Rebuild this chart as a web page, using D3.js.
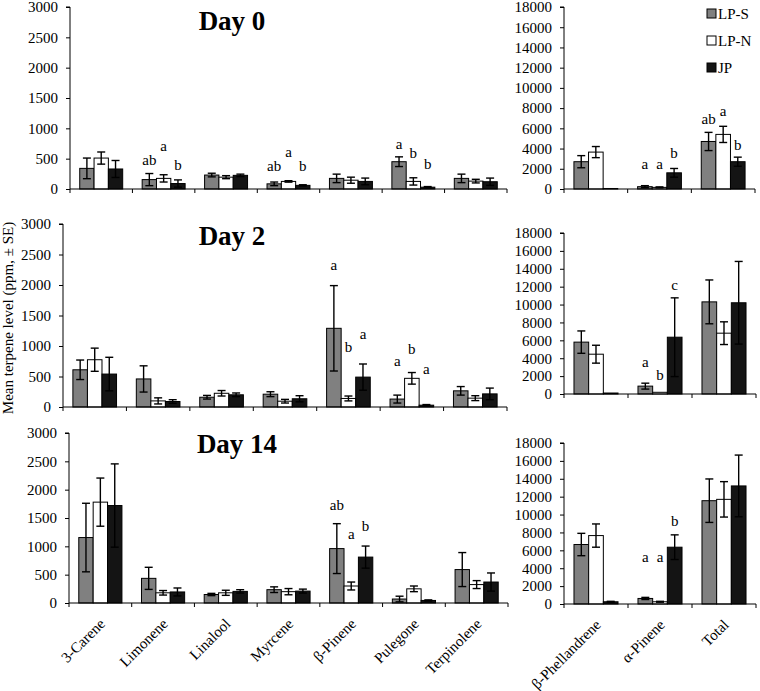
<!DOCTYPE html>
<html><head><meta charset="utf-8">
<script src="https://cdn.jsdelivr.net/npm/d3@7"></script>
<style>body{margin:0;background:#fff}svg{display:block}text{font-family:'Liberation Serif','Times New Roman',serif;fill:#000}</style>
</head><body><svg id="c" width="760" height="691"></svg>
<script>
// ---------- data ----------
const leftCategories = ["3-Carene","Limonene","Linalool","Myrcene","β-Pinene","Pulegone","Terpinolene"];
const rightCategories = ["β-Phellandrene","α-Pinene","Total"];
const seriesNames = ["LP-S","LP-N","JP"];
const leftTicks = [0,500,1000,1500,2000,2500,3000];
const rightTicks = [0,2000,4000,6000,8000,10000,12000,14000,16000,18000];

// Day 0
const day0LeftMean = [[340,155,230,85,175,450,175],[510,175,195,125,145,125,130],[330,90,225,60,125,30,120]];
const day0LeftSE   = [[170,100,30,30,70,80,70],[100,60,25,12,50,60,30],[140,60,20,10,55,10,60]];
const day0LeftLetters = [["","ab","","ab","","a",""],["","a","","a","","b",""],["","b","","b","","b",""]];
const day0LeftLetterAt = [[0,489,0,384,0,742,0],[0,720,0,610,0,605,0],[0,407,0,384,0,412,0]];
const day0RightMean = [[2700,230,4700],[3650,160,5400],[50,1600,2700]];
const day0RightSE   = [[600,100,900],[550,50,800],[0,430,450]];
const day0RightLetters = [["","a","ab"],["","a","a"],["","b","b"]];
const day0RightLetterAt = [[0,2473,6923],[0,2473,7714],[0,3630,4420]];

// Day 2
const day2LeftMean = [[610,460,160,210,1290,130,265],[775,100,225,95,140,470,145],[540,90,200,135,490,30,215]];
const day2LeftSE   = [[160,215,30,40,700,65,70],[190,50,45,30,40,95,40],[275,30,30,50,215,10,95]];
const day2LeftLetters = [["","","","","a","a",""],["","","","","b","b",""],["","","","","a","a",""]];
const day2LeftLetterAt = [[0,0,0,0,2324,753,0],[0,0,0,0,994,951,0],[0,0,0,0,1198,621,0]];
const day2RightMean = [[5800,880,10300],[4450,190,6800],[110,6350,10200]];
const day2RightSE   = [[1250,330,2450],[1000,0,1270],[0,4400,4620]];
const day2RightLetters = [["","a",""],["","b",""],["","c",""]];
const day2RightLetterAt = [[0,3613,0],[0,2200,0],[0,12190,0]];

// Day 14
const day14LeftMean = [[1155,435,150,235,960,70,590],[1780,180,180,200,300,250,325],[1720,195,205,210,810,45,370]];
const day14LeftSE   = [[605,195,20,50,440,50,300],[425,40,45,55,70,50,70],[735,70,30,35,195,10,160]];
const day14LeftLetters = [["","","","","ab","",""],["","","","","a","",""],["","","","","b","",""]];
const day14LeftLetterAt = [[0,0,0,0,1730,0,0],[0,0,0,0,1223,0,0],[0,0,0,0,1371,0,0]];
const day14RightMean = [[6650,620,11550],[7650,250,11700],[250,6350,13200]];
const day14RightSE   = [[1250,120,2430],[1300,50,1980],[50,1380,3450]];
const day14RightLetters = [["","a",""],["","a",""],["","b",""]];
const day14RightLetterAt = [[0,5290,0],[0,5290,0],[0,9280,0]];

const dayTitles = ["Day 0","Day 2","Day 14"];
const yLabel = "Mean terpene level (ppm, ± SE)";

// ---------- drawing ----------
const svg = d3.select("#c");
const fills = {"LP-S":"#808080","LP-N":"#ffffff","JP":"#141414"};

function panel(o){
  const g = svg.append("g");
  const x = d3.scaleBand().domain(o.cats).range([o.x0,o.x1]).padding(0);
  const xs = d3.scaleBand().domain(seriesNames).range([0,x.bandwidth()]).paddingInner(0).paddingOuter(0.68);
  const y = d3.scaleLinear().domain([0,o.max]).range([o.yb,o.yt]);
  const rows = [];
  seriesNames.forEach((s,si)=>o.cats.forEach((c,ci)=>{
    rows.push({s,c,v:o.mean[si][ci],e:o.se[si][ci],l:o.letters[si][ci],la:o.letterAt[si][ci]});
  }));
  // bars
  g.selectAll("rect.bar").data(rows).join("rect")
    .attr("x",d=>x(d.c)+xs(d.s)).attr("width",xs.bandwidth())
    .attr("y",d=>y(d.v)).attr("height",d=>y(0)-y(d.v))
    .attr("fill",d=>fills[d.s]).attr("stroke","#000").attr("stroke-width",1);
  // error bars
  const eb = rows.filter(d=>d.e>0);
  const cx = d=>x(d.c)+xs(d.s)+xs.bandwidth()/2;
  const eg = g.append("g").attr("stroke","#000").attr("stroke-width",1.4);
  eg.selectAll("line.v").data(eb).join("line").attr("x1",cx).attr("x2",cx)
    .attr("y1",d=>y(d.v+d.e)).attr("y2",d=>y(Math.max(0,d.v-d.e)));
  eg.selectAll("line.t").data(eb).join("line").attr("x1",d=>cx(d)-4).attr("x2",d=>cx(d)+4)
    .attr("y1",d=>y(d.v+d.e)).attr("y2",d=>y(d.v+d.e));
  eg.selectAll("line.b").data(eb).join("line").attr("x1",d=>cx(d)-4).attr("x2",d=>cx(d)+4)
    .attr("y1",d=>y(Math.max(0,d.v-d.e))).attr("y2",d=>y(Math.max(0,d.v-d.e)));
  // letters
  g.selectAll("text.let").data(rows.filter(d=>d.l)).join("text")
    .attr("x",cx).attr("y",d=>y(d.la)).attr("dy","0.35em").attr("fill","#000")
    .attr("text-anchor","middle").attr("font-size",15).text(d=>d.l);
  // y axis
  const ya = g.append("g").attr("transform",`translate(${o.x0},0)`)
    .call(d3.axisLeft(y).tickValues(o.ticks).tickSize(4).tickPadding(8).tickFormat(d3.format("d")));
  ya.selectAll("text").attr("font-size",15).attr("font-family","'Liberation Serif','Times New Roman',serif").attr("fill","#000");
  ya.select(".domain").attr("d",`M${-4},${o.yt}H0V${o.yb}`).attr("stroke","#000");
  // x axis
  const xg = g.append("g");
  xg.append("line").attr("x1",o.x0).attr("x2",o.x1).attr("y1",o.yb).attr("y2",o.yb).attr("stroke","#000");
  const bounds = o.cats.map(c=>x(c)).concat([x.range()[1]]);
  xg.selectAll("line.tk").data(bounds).join("line").attr("x1",d=>d).attr("x2",d=>d)
    .attr("y1",o.yb).attr("y2",o.yb+4).attr("stroke","#000");
  if(o.labels){
    xg.selectAll("text").data(o.cats).join("text")
      .attr("transform",c=>`translate(${x(c)+x.bandwidth()/2+2},${o.yb+18}) rotate(-45)`)
      .attr("text-anchor","end").attr("dy","0.35em").attr("font-size",15).text(c=>c);
  }
  return {x,y};
}

const leftLayouts = [
  {x0:70,x1:507,yt:7,yb:189},
  {x0:63,x1:507,yt:224,yb:407},
  {x0:69,x1:508,yt:433,yb:603}
];
const rightLayouts = [
  {x0:564,x1:755,yt:7,yb:189},
  {x0:564,x1:756,yt:233,yb:394},
  {x0:564,x1:756,yt:443,yb:604}
];
const leftData = [
  [day0LeftMean,day0LeftSE,day0LeftLetters,day0LeftLetterAt],
  [day2LeftMean,day2LeftSE,day2LeftLetters,day2LeftLetterAt],
  [day14LeftMean,day14LeftSE,day14LeftLetters,day14LeftLetterAt]
];
const rightData = [
  [day0RightMean,day0RightSE,day0RightLetters,day0RightLetterAt],
  [day2RightMean,day2RightSE,day2RightLetters,day2RightLetterAt],
  [day14RightMean,day14RightSE,day14RightLetters,day14RightLetterAt]
];
const titlePos = [[232,30],[232,245],[237,453]];

for(let i=0;i<3;i++){
  const L = leftLayouts[i], R = rightLayouts[i];
  panel(Object.assign({cats:leftCategories,max:3000,ticks:leftTicks,mean:leftData[i][0],se:leftData[i][1],letters:leftData[i][2],letterAt:leftData[i][3],labels:i===2},L));
  panel(Object.assign({cats:rightCategories,max:18000,ticks:rightTicks,mean:rightData[i][0],se:rightData[i][1],letters:rightData[i][2],letterAt:rightData[i][3],labels:i===2},R));
  svg.append("text").attr("x",titlePos[i][0]).attr("y",titlePos[i][1]).attr("text-anchor","middle")
    .attr("font-size",27).attr("font-weight","bold").text(dayTitles[i]);
}

// y label
svg.append("text").attr("transform","translate(13,318) rotate(-90)").attr("text-anchor","middle")
  .attr("font-size",15).text(yLabel);

// legend
const lg = svg.append("g");
seriesNames.forEach((s,i)=>{
  lg.append("rect").attr("x",707).attr("y",9+i*27).attr("width",9).attr("height",9)
    .attr("fill",fills[s]).attr("stroke","#000");
  lg.append("text").attr("x",718).attr("y",13.5+i*27).attr("dy","0.35em").attr("font-size",15).text(s);
});
</script></body></html>
